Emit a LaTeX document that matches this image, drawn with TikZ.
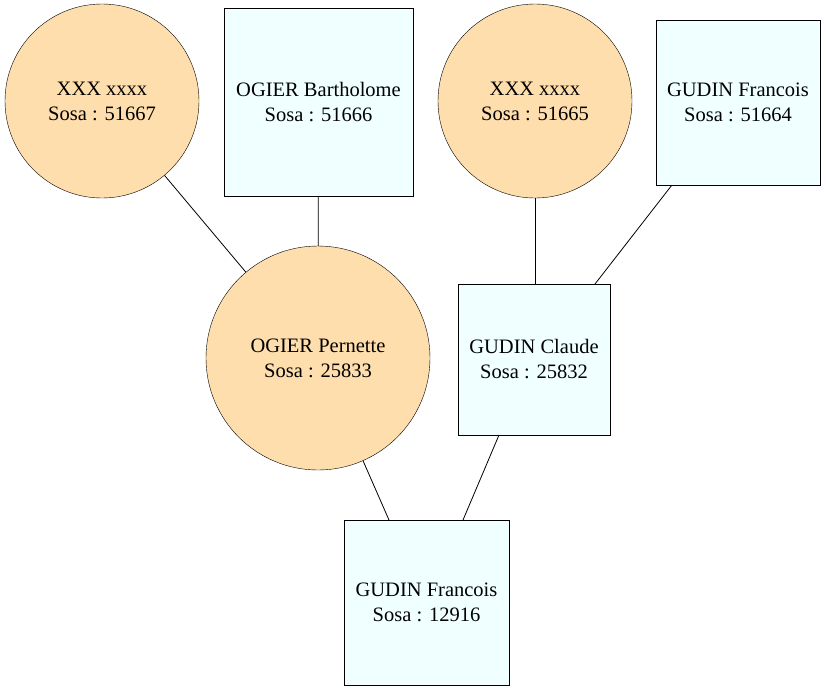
\documentclass[tikz,border=0pt]{standalone}
\usepackage{fontspec}
\setmainfont{Liberation Serif}
\definecolor{fem}{HTML}{FFDEAD}
\definecolor{mal}{HTML}{F0FFFF}
\begin{document}
\begin{tikzpicture}[x=1pt,y=-1pt,
  lbl/.style={align=center,font=\fontsize{20.5}{25}\selectfont},
  femnode/.style={lbl,circle,draw=black,fill=fem,inner sep=0pt},
  malnode/.style={lbl,rectangle,draw=black,fill=mal,inner sep=0pt},
  link/.style={draw=black,line width=0.8pt}]
\useasboundingbox (0,0) rectangle (826,691);
\node[femnode,minimum size=194pt] (m51667) at (102,101) {XXX xxxx\\Sosa : 51667};
\node[malnode,minimum width=189pt,minimum height=188pt] (p51666) at (318.5,102) {OGIER Bartholome\\Sosa : 51666};
\node[femnode,minimum size=194pt] (m51665) at (535,101) {XXX xxxx\\Sosa : 51665};
\node[malnode,minimum width=164pt,minimum height=165pt] (p51664) at (738,102.5) {GUDIN Francois\\Sosa : 51664};
\node[femnode,minimum size=224pt] (m25833) at (318,358) {OGIER Pernette\\Sosa : 25833};
\node[malnode,minimum width=152pt,minimum height=151pt] (p25832) at (534,359.5) {GUDIN Claude\\Sosa : 25832};
\node[malnode,minimum width=165pt,minimum height=165pt] (p12916) at (426.5,602.5) {GUDIN Francois\\Sosa : 12916};
\draw[link] (m51667) -- (m25833);
\draw[link] (p51666) -- (m25833);
\draw[link] (m51665.south) -- (p25832.north -| m51665.south);
\draw[link] (p51664.south west) ++(16,0) coordinate (a) -- (595,284) coordinate (b);
\draw[link] (m25833) -- (389,520) coordinate (c);
\draw[link] (499,435) coordinate (d) -- (463,520) coordinate (e);
\end{tikzpicture}
\end{document}
